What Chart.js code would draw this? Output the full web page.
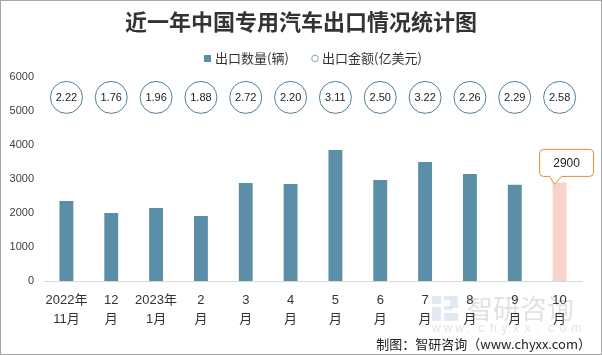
<!DOCTYPE html>
<html>
<head>
<meta charset="utf-8">
<script src="https://cdn.jsdelivr.net/npm/chart.js@4"></script>
<style>
html,body{margin:0;padding:0;background:#fff;}
canvas{display:block;}
</style>
</head>
<body>
<canvas id="c" width="602" height="355"></canvas>
<script>
const title = '近一年中国专用汽车出口情况统计图';
const seriesNames = ['出口数量(辆)', '出口金额(亿美元)'];
const categories = [
  ['2022年','11月'], ['12','月'], ['2023年','1月'], ['2','月'], ['3','月'], ['4','月'],
  ['5','月'], ['6','月'], ['7','月'], ['8','月'], ['9','月'], ['10','月']
];
const quantities = [2350, 2000, 2150, 1910, 2880, 2850, 3850, 2970, 3500, 3150, 2830, 2900];
const amounts = ['2.22','1.76','1.96','1.88','2.72','2.20','3.11','2.50','3.22','2.26','2.29','2.58'];
const yMin = 0, yMax = 6000, yStep = 1000;
const calloutIndex = 11;
const footer = '制图：智研咨询（www.chyxx.com）';

const BLUE = '#5B8EA7';
const PINK = '#F7D3C8';
const CJK = '"Noto Sans CJK SC", sans-serif';
const LAT = '"Liberation Sans", "Noto Sans CJK SC", sans-serif';

const deco = {
  id: 'deco',
  beforeDraw(chart) {
    const ctx = chart.ctx;
    ctx.save();
    ctx.fillStyle = '#fff';
    ctx.fillRect(0, 0, chart.width, chart.height);
    // watermark
    ctx.globalAlpha = 0.3;
    ctx.fillStyle = '#9fb6d3';
    ctx.fillRect(432, 296, 9, 8);
    ctx.fillRect(444, 296, 14, 4);
    ctx.fillRect(450, 300, 8, 8);
    ctx.fillRect(444, 306, 8, 4);
    ctx.fillRect(432, 307, 9, 14);
    ctx.fillRect(444, 313, 14, 8);
    ctx.fillStyle = '#a0a0a0';
    ctx.font = '27px ' + CJK;
    ctx.textBaseline = 'middle';
    ctx.textAlign = 'left';
    ctx.fillText('智研咨询', 466, 309);
    ctx.font = '12px ' + LAT;
    const w = 'www.chyxx.com';
    for (let i = 0; i < w.length; i++) ctx.fillText(w[i], 432 + i * 11.6, 329);
    ctx.restore();
  },
  afterDraw(chart) {
    const ctx = chart.ctx;
    const xs = chart.scales.x, ys = chart.scales.y;
    ctx.save();
    // title
    ctx.fillStyle = '#333';
    ctx.font = 'bold 22px ' + CJK;
    ctx.textAlign = 'center';
    ctx.textBaseline = 'middle';
    ctx.fillText(title, 301, 22);
    // legend
    ctx.font = '13px ' + CJK;
    ctx.textAlign = 'left';
    ctx.fillStyle = BLUE;
    ctx.fillRect(204, 55, 7, 7);
    ctx.fillStyle = '#333';
    ctx.fillText(seriesNames[0], 215, 58.5);
    ctx.beginPath();
    ctx.arc(315, 58.5, 3.3, 0, Math.PI * 2);
    ctx.strokeStyle = '#7fa5bd';
    ctx.lineWidth = 1;
    ctx.stroke();
    ctx.fillStyle = '#333';
    ctx.fillText(seriesNames[1], 322, 58.5);
    // amount circles
    const cy = ys.getPixelForValue(5400);
    ctx.font = '11px ' + LAT;
    ctx.textAlign = 'center';
    amounts.forEach((a, i) => {
      const cx = xs.getPixelForValue(i);
      ctx.beginPath();
      ctx.arc(cx, cy, 16, 0, Math.PI * 2);
      ctx.fillStyle = '#fff';
      ctx.fill();
      ctx.strokeStyle = '#4f7f99';
      ctx.lineWidth = 1;
      ctx.stroke();
      ctx.fillStyle = '#222';
      ctx.fillText(a, cx, cy + 1);
    });
    // callout
    const bar = chart.getDatasetMeta(0).data[calloutIndex];
    const bx = bar.x, by = bar.y;
    const L = bx - 20, R = bx + 34, T = by - 33, B = by - 6, r = 4;
    ctx.beginPath();
    ctx.moveTo(L + r, T);
    ctx.lineTo(R - r, T);
    ctx.quadraticCurveTo(R, T, R, T + r);
    ctx.lineTo(R, B - r);
    ctx.quadraticCurveTo(R, B, R - r, B);
    ctx.lineTo(bx + 2, B);
    ctx.lineTo(bx - 5, by + 2);
    ctx.lineTo(bx - 10, B);
    ctx.lineTo(L + r, B);
    ctx.quadraticCurveTo(L, B, L, B - r);
    ctx.lineTo(L, T + r);
    ctx.quadraticCurveTo(L, T, L + r, T);
    ctx.closePath();
    ctx.fillStyle = '#fff';
    ctx.fill();
    ctx.strokeStyle = '#E88A2E';
    ctx.lineWidth = 1;
    ctx.stroke();
    ctx.fillStyle = '#222';
    ctx.font = '12px ' + LAT;
    ctx.textAlign = 'center';
    ctx.fillText(String(quantities[calloutIndex]), (L + R) / 2, (T + B) / 2 + 1);
    // footer
    ctx.font = '13px ' + CJK;
    ctx.textAlign = 'right';
    ctx.fillStyle = '#222';
    ctx.fillText(footer, 591, 344);
    // border
    ctx.strokeStyle = '#a6a6a6';
    ctx.lineWidth = 1;
    ctx.strokeRect(0.5, 0.5, chart.width - 1, chart.height - 1);
    ctx.restore();
  }
};

new Chart(document.getElementById('c'), {
  type: 'bar',
  data: {
    labels: categories,
    datasets: [{
      label: seriesNames[0],
      data: quantities,
      backgroundColor: quantities.map((v, i) => i === calloutIndex ? PINK : BLUE),
      categoryPercentage: 1,
      barPercentage: 0.31
    }]
  },
  options: {
    responsive: false,
    animation: false,
    devicePixelRatio: 1,
    layout: { padding: { top: 77, right: 20, bottom: 0, left: 0 } },
    plugins: {
      legend: { display: false },
      title: { display: false },
      tooltip: { enabled: false }
    },
    scales: {
      x: {
        afterFit(s) { s.height = 74; },
        grid: { display: false, drawTicks: false },
        border: { display: true, color: '#d9d9d9', width: 1 },
        ticks: {
          autoSkip: false, maxRotation: 0, minRotation: 0, padding: 10,
          color: '#333',
          font: { size: 13, family: LAT, lineHeight: 1.45 }
        }
      },
      y: {
        min: yMin, max: yMax,
        afterFit(s) { s.width = 44; },
        grid: { display: false, drawTicks: false },
        border: { display: false },
        ticks: {
          stepSize: yStep, padding: 10, color: '#404040',
          font: { size: 11, family: LAT },
          callback: (v) => String(v)
        }
      }
    }
  },
  plugins: [deco]
});
</script>
</body>
</html>
